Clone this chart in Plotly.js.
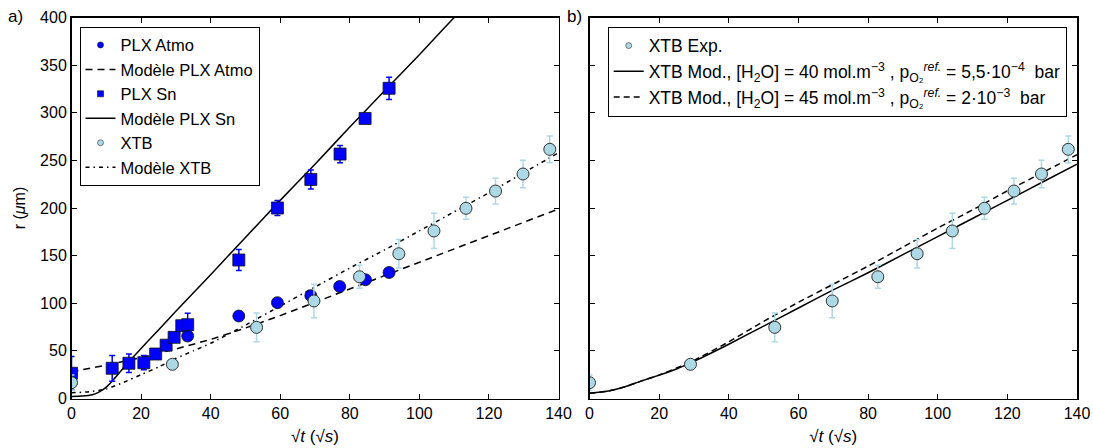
<!DOCTYPE html>
<html>
<head>
<meta charset="utf-8">
<script src="https://cdn.plot.ly/plotly-3.0.1.min.js"></script>
<style>html,body{margin:0;padding:0;background:#fff;}#chart{width:1093px;height:448px;}</style>
</head>
<body>
<div id="chart"></div>
<script>
// ---- Data ----
const atmoX = [33.4, 48.1, 59.2, 68.8, 77.1, 84.5, 91.3];
const atmoY = [65.6, 86.6, 100.6, 108, 117.6, 124.7, 132.3];
const atmoErr = [3, 3, 3, 3, 3, 3, 3];

const snX = [0, 11.7, 16.5, 20.8, 24.2, 27.2, 29.5, 31.7, 33.4, 48.1, 59.2, 68.8, 77.2, 84.4, 91.3];
const snY = [26.5, 31.7, 37, 37.6, 46.7, 56, 64.2, 76.4, 77.5, 145.4, 200, 230, 256.6, 294, 325.7];
const snErr = [17.5, 13.5, 9.6, 7.5, 4, 5, 5, 5, 12, 11, 8, 10, 9, 4, 11.7];

const xtbX = [0, 29, 53.2, 69.7, 82.8, 94.1, 104.2, 113.4, 121.9, 129.8, 137.5];
const xtbY = [16.6, 35.9, 74.7, 102.4, 127.8, 152, 175.9, 199.7, 217.8, 235.7, 261.6];
const xtbErr = [8, 4, 15, 17.5, 12, 15, 18.5, 11.5, 13.5, 14.5, 14];

const atmoModX = [0, 10, 20, 30, 40, 50, 60, 70, 80, 90, 100, 110, 120, 130, 140];
const atmoModY = [28, 35, 43, 52, 62, 74, 87, 101, 115, 129, 143, 157, 171, 185, 199];

const snModX = [0, 3, 6, 8, 10, 12, 14, 16, 18, 20, 25, 30, 40, 50, 60, 70, 80, 90, 100, 110, 115];
const snModY = [2, 2.5, 4, 7, 12, 19.5, 28, 37, 44.5, 52.5, 72, 91.5, 130, 169, 208, 246, 285, 323, 361, 400, 419];

const xtbModX = [0, 5, 10, 15, 20, 25, 30, 35, 40, 50, 60, 70, 80, 90, 100, 110, 120, 130, 140];
const xtbModY = [6, 7, 10, 17, 25, 33, 42, 50, 58, 77, 97, 117, 137, 156, 176, 196, 216, 237, 258];

const modBX = [0, 5, 10, 15, 20, 25, 30, 40, 50, 60, 70, 80, 90, 100, 110, 120, 130, 140];
const mod40Y = [5.5, 7.5, 12, 18.5, 24.5, 31, 39, 57, 76, 95, 114, 132, 151, 170, 189, 208, 227, 246];
const mod45Y = [5.5, 7.5, 12, 18.5, 24.5, 32, 40, 59.5, 81, 101, 120, 139, 159, 179, 198, 218, 237, 256];

const xTicks = [0, 20, 40, 60, 80, 100, 120, 140];
const yTicks = [0, 50, 100, 150, 200, 250, 300, 350, 400];

// ---- Styles ----
const BLUE = '#0000ff';
const LBLUE = '#add8e6';
const errStyle = (arr, c) => ({type: 'data', array: arr, visible: true, color: c, thickness: 1.5, width: 3});
const atmoMarker = {symbol: 'circle', size: 12, color: BLUE, line: {color: '#111', width: 0.8}};
const snMarker = {symbol: 'square', size: 12, color: BLUE, line: {color: '#111', width: 0.8}};
const xtbMarker = {symbol: 'circle', size: 12, color: LBLUE, line: {color: '#333', width: 1}};
const small = m => Object.assign({}, m, {size: 6, line: {color: m.line.color, width: 0.6}});

// legend-only entry carrying a small marker (no data drawn)
const legendMarker = (name, m, rank, leg, xa, ya) => ({
  x: [null], y: [null], type: 'scatter', mode: 'markers', name: name, legendrank: rank,
  marker: small(m), xaxis: xa, yaxis: ya, legend: leg, hoverinfo: 'skip'
});

const NAME40 = 'XTB Mod., [H<sub>2</sub>O] = 40 mol.m<sup>−3</sup> , p<sub>O₂</sub><sup><i>ref.</i></sup> = 5,5·10<sup>−4</sup>  bar';
const NAME45 = 'XTB Mod., [H<sub>2</sub>O] = 45 mol.m<sup>−3</sup> , p<sub>O₂</sub><sup><i>ref.</i></sup> = 2·10<sup>−3</sup>  bar';

const traces = [
  // left panel lines
  {x: atmoModX, y: atmoModY, type: 'scatter', mode: 'lines', name: 'Modèle PLX Atmo', legendrank: 2,
   line: {color: 'black', width: 1.5, dash: '7px,5px'}, xaxis: 'x', yaxis: 'y', legend: 'legend'},
  {x: snModX, y: snModY, type: 'scatter', mode: 'lines', name: 'Modèle PLX Sn', legendrank: 4,
   line: {color: 'black', width: 1.5, shape: 'spline', smoothing: 0.5}, xaxis: 'x', yaxis: 'y', legend: 'legend'},
  {x: xtbModX, y: xtbModY, type: 'scatter', mode: 'lines', name: 'Modèle XTB', legendrank: 6,
   line: {color: 'black', width: 1.5, dash: '4px,4px,1.5px,4px', shape: 'spline', smoothing: 0.5}, xaxis: 'x', yaxis: 'y', legend: 'legend'},
  // left panel markers
  {x: atmoX, y: atmoY, type: 'scatter', mode: 'markers', name: 'PLX Atmo', showlegend: false,
   error_y: errStyle(atmoErr, BLUE), marker: atmoMarker, xaxis: 'x', yaxis: 'y'},
  {x: snX, y: snY, type: 'scatter', mode: 'markers', name: 'PLX Sn', showlegend: false,
   error_y: errStyle(snErr, BLUE), marker: snMarker, xaxis: 'x', yaxis: 'y'},
  {x: xtbX, y: xtbY, type: 'scatter', mode: 'markers', name: 'XTB', showlegend: false,
   error_y: errStyle(xtbErr, LBLUE), marker: xtbMarker, xaxis: 'x', yaxis: 'y'},
  legendMarker('PLX Atmo', atmoMarker, 1, 'legend', 'x', 'y'),
  legendMarker('PLX Sn', snMarker, 3, 'legend', 'x', 'y'),
  legendMarker('XTB', xtbMarker, 5, 'legend', 'x', 'y'),
  // right panel
  {x: modBX, y: mod40Y, type: 'scatter', mode: 'lines', legendrank: 2, name: NAME40,
   line: {color: 'black', width: 1.5, shape: 'spline', smoothing: 0.5}, xaxis: 'x2', yaxis: 'y2', legend: 'legend2'},
  {x: modBX, y: mod45Y, type: 'scatter', mode: 'lines', legendrank: 3, name: NAME45,
   line: {color: 'black', width: 1.5, dash: '6px,4px', shape: 'spline', smoothing: 0.5}, xaxis: 'x2', yaxis: 'y2', legend: 'legend2'},
  {x: xtbX, y: xtbY, type: 'scatter', mode: 'markers', name: 'XTB Exp.', showlegend: false,
   error_y: errStyle(xtbErr, LBLUE), marker: xtbMarker, xaxis: 'x2', yaxis: 'y2'},
  legendMarker('XTB Exp.', xtbMarker, 1, 'legend2', 'x2', 'y2')
];

const W = 1093, H = 448;
const axBase = {
  showline: true, mirror: 'ticks', linecolor: 'black', linewidth: 1.5,
  ticks: 'inside', ticklen: 5, tickwidth: 1, tickcolor: 'black',
  showgrid: false, zeroline: false, automargin: false,
  tickfont: {size: 16, color: 'black'}
};
const yDom = [1 - 398.5 / H, 1 - 17.5 / H];
const xTitle = {text: '√<i>t</i> (√<i>s</i>)', font: {size: 17}, standoff: 9};

const layout = {
  width: W, height: H,
  margin: {l: 0, r: 0, t: 0, b: 0},
  paper_bgcolor: 'white', plot_bgcolor: 'white',
  font: {family: '"Liberation Sans", Arial, sans-serif', size: 16, color: 'black'},
  xaxis: Object.assign({}, axBase, {domain: [71.5 / W, 558.5 / W], range: [0, 140], tickvals: xTicks, anchor: 'y', title: xTitle}),
  yaxis: Object.assign({}, axBase, {domain: yDom, range: [0, 400], tickvals: yTicks, anchor: 'x',
    title: {text: 'r (<i>μ</i>m)', font: {size: 16}, standoff: 10}}),
  xaxis2: Object.assign({}, axBase, {domain: [589.5 / W, 1077 / W], range: [0, 140], tickvals: xTicks, anchor: 'y2', title: xTitle}),
  yaxis2: Object.assign({}, axBase, {domain: yDom, range: [0, 400], tickvals: yTicks, anchor: 'x2', showticklabels: false}),
  legend: {x: 79.5 / W, y: 1 - 26.7 / H, xanchor: 'left', yanchor: 'top', bgcolor: 'white',
    bordercolor: 'black', borderwidth: 1, font: {size: 16.5}, tracegroupgap: 0, itemwidth: 30},
  legend2: {x: 607.7 / W, y: 1 - 26.7 / H, xanchor: 'left', yanchor: 'top', bgcolor: 'white',
    bordercolor: 'black', borderwidth: 1, font: {size: 17.5}, tracegroupgap: 0, itemwidth: 30},
  showlegend: true,
  annotations: [
    {text: 'a)', xref: 'paper', yref: 'paper', x: 6 / W, y: 1 - 5 / H, xanchor: 'left', yanchor: 'top', showarrow: false, font: {size: 17}},
    {text: 'b)', xref: 'paper', yref: 'paper', x: 565 / W, y: 1 - 5 / H, xanchor: 'left', yanchor: 'top', showarrow: false, font: {size: 17}}
  ]
};

Plotly.newPlot('chart', traces, layout, {staticPlot: true, displayModeBar: false});
</script>
</body>
</html>
